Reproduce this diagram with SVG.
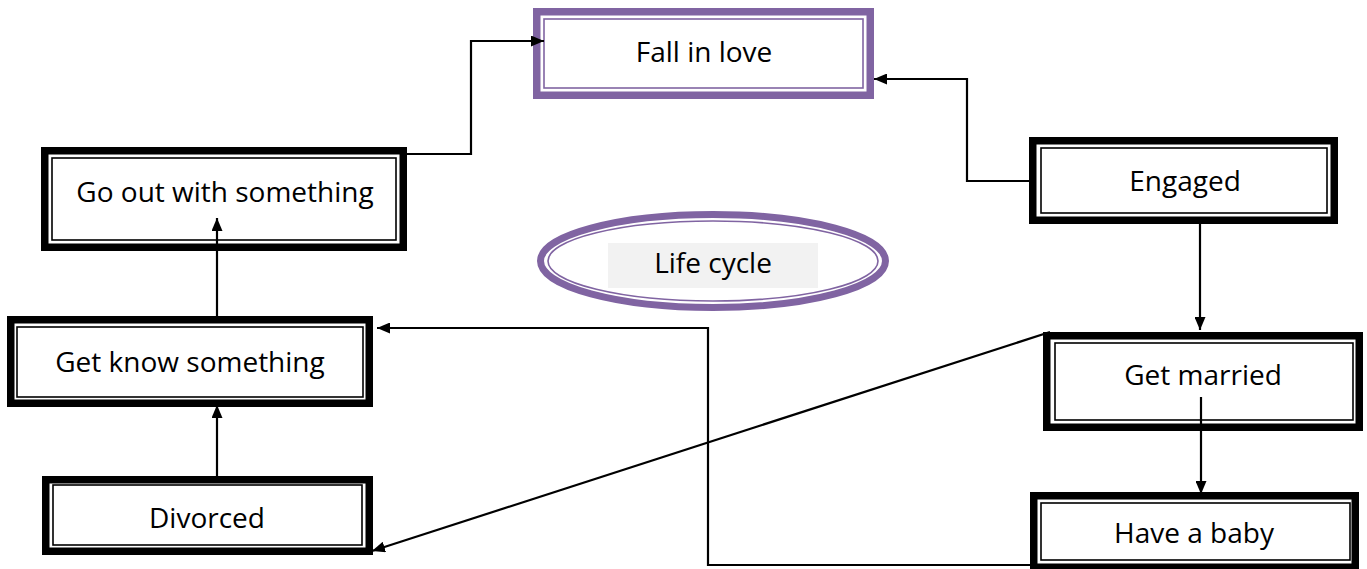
<svg xmlns="http://www.w3.org/2000/svg" width="1367" height="569" viewBox="0 0 1367 569">
<defs>
<style>
.outer{fill:#fff;stroke:#000;stroke-width:7.5}
.inner{fill:none;stroke:#000;stroke-width:1.6}
.pouter{fill:#fff;stroke:#8064A2;stroke-width:7.5}
.pinner{fill:none;stroke:#8064A2;stroke-width:1.6}
.lbl{font-family:"Open Sans","Noto Sans",sans-serif;font-size:28px;fill:#000;text-anchor:middle}
.conn{fill:none;stroke:#000;stroke-width:2.2}
</style>
<marker id="arr" viewBox="0 0 13 11" refX="13" refY="5.5" markerWidth="13" markerHeight="11" markerUnits="userSpaceOnUse" orient="auto">
<path d="M0,0 L13,5.5 L0,11 Z" fill="#000"/>
</marker>
</defs>
<rect width="1367" height="569" fill="#fff"/>
<g id="fall-in-love">
<rect class="pouter" x="536.75" y="11.75" width="333.5" height="83.5"/>
<rect class="pinner" x="544" y="19" width="319" height="69"/>
<text class="lbl" x="704" y="62">Fall in love</text>
</g>
<g id="go-out">
<rect class="outer" x="44.75" y="150.75" width="358.5" height="96.5"/>
<rect class="inner" x="52" y="158" width="344" height="82"/>
<text class="lbl" x="225" y="202">Go out with something</text>
</g>
<g id="engaged">
<rect class="outer" x="1032.75" y="140.75" width="301.5" height="79.5"/>
<rect class="inner" x="1041" y="148" width="286" height="65"/>
<text class="lbl" x="1185" y="191">Engaged</text>
</g>
<g id="life-cycle">
<ellipse cx="713" cy="261" rx="172.5" ry="46.5" fill="#fff" stroke="#8064A2" stroke-width="7"/>
<ellipse cx="713" cy="261" rx="165" ry="40" fill="none" stroke="#8064A2" stroke-width="1.6"/>
<rect x="608" y="243" width="210" height="45" fill="#F2F2F2"/>
<text class="lbl" x="713" y="273">Life cycle</text>
</g>
<g id="get-know">
<rect class="outer" x="10.75" y="319.75" width="358.5" height="83.5"/>
<rect class="inner" x="17" y="327" width="346" height="70"/>
<text class="lbl" x="190" y="372">Get know something</text>
</g>
<g id="get-married">
<rect class="outer" x="1046.75" y="335.75" width="312.5" height="91.5"/>
<rect class="inner" x="1055" y="343" width="298" height="77"/>
<text class="lbl" x="1203" y="385">Get married</text>
</g>
<g id="divorced">
<rect class="outer" x="45.75" y="479.75" width="323.5" height="71.5"/>
<rect class="inner" x="53" y="485" width="309" height="60"/>
<text class="lbl" x="207" y="528">Divorced</text>
</g>
<g id="have-a-baby">
<rect class="outer" x="1033.75" y="495.75" width="321.5" height="71.5"/>
<rect class="inner" x="1041" y="503" width="309" height="57"/>
<text class="lbl" x="1194" y="543">Have a baby</text>
</g>
<g id="connectors">
<polyline class="conn" points="407,154 471,154 471,41 544,41" marker-end="url(#arr)"/>
<polyline class="conn" points="1029,181 967,181 967,79 874,79" marker-end="url(#arr)"/>
<line class="conn" x1="1200" y1="224" x2="1200" y2="330" marker-end="url(#arr)"/>
<line class="conn" x1="1201" y1="397" x2="1201" y2="494" marker-end="url(#arr)"/>
<line class="conn" x1="1050" y1="332" x2="372" y2="551" marker-end="url(#arr)"/>
<polyline class="conn" points="1030,565 708,565 708,328 377,328" marker-end="url(#arr)"/>
<line class="conn" x1="217" y1="476" x2="217" y2="405" marker-end="url(#arr)"/>
<line class="conn" x1="217" y1="316" x2="217" y2="218" marker-end="url(#arr)"/>
</g>
</svg>
